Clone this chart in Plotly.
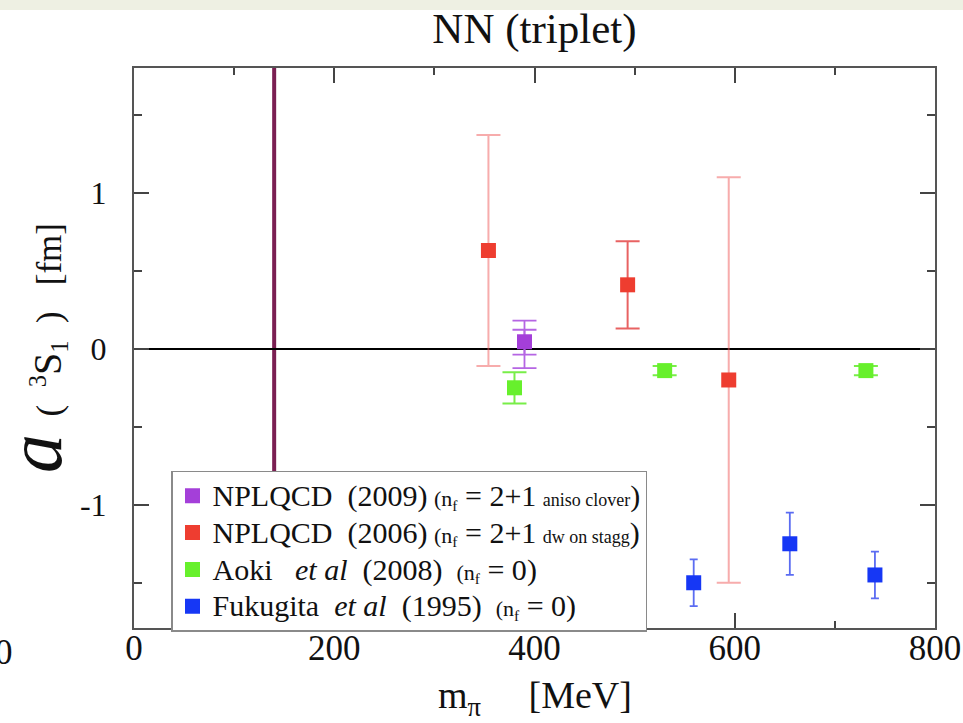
import plotly.graph_objects as go

# ---- data: NN 3S1 scattering length vs pion mass ----
mpi_phys = 140  # physical pion mass [MeV]

# NPLQCD (2009), n_f = 2+1 anisotropic clover (stat and stat+sys bands)
npl09_x = [390]
npl09_y = [0.045]
npl09_stat_up = [0.077]
npl09_stat_dn = [0.083]
npl09_tot_up = [0.136]
npl09_tot_dn = [0.169]

# NPLQCD (2006), n_f = 2+1 domain wall on staggered
npl06_x = [354, 493, 594]
npl06_y = [0.63, 0.41, -0.20]
npl06_err = [0.74, 0.28, 1.30]

# Aoki et al (2008), quenched
aoki_x = [380, 530, 731]
aoki_y = [-0.25, -0.14, -0.14]
aoki_err = [0.10, 0.03, 0.03]

# Fukugita et al (1995), quenched
fuku_x = [559, 655, 740]
fuku_y = [-1.50, -1.25, -1.45]
fuku_err = [0.15, 0.20, 0.15]

x_ticks = [0, 200, 400, 600, 800]
y_ticks = [-1, 0, 1]

SERIF = "Liberation Serif, Times New Roman, serif"
NB = "\u00a0"

C_PURPLE = "#a43fd9"
C_RED = "#ee3d30"
C_GREEN = "#67f02c"
C_BLUE = "#1637f5"


def legend_label(head, nf, tail=""):
    """Legend entry: large main text, smaller (n_f ...) part and optional tiny action tag."""
    txt = '<span style="font-size:30px">' + head + "</span>" + NB
    txt += '<span style="font-size:22px">(n<sub>f</sub></span>'
    txt += '<span style="font-size:30px">' + NB + "=" + NB + nf + "</span>"
    if tail:
        txt += NB + '<span style="font-size:18px">' + tail + "</span>"
    txt += '<span style="font-size:30px">)</span>'
    return txt


fig = go.Figure()

# physical point
fig.add_vline(x=mpi_phys, line=dict(color="#7a1f52", width=4), layer="below")

# NPLQCD 2009: outer (stat+sys) bars, then marker with inner bars
fig.add_trace(go.Scatter(
    x=npl09_x, y=npl09_y, mode="markers", showlegend=False,
    marker=dict(size=1, color="rgba(0,0,0,0)"),
    error_y=dict(type="data", symmetric=False, array=npl09_tot_up, arrayminus=npl09_tot_dn,
                 color="#b565e3", thickness=1.8, width=12),
    hoverinfo="skip"))
fig.add_trace(go.Scatter(
    x=npl09_x, y=npl09_y, mode="markers",
    name=legend_label("NPLQCD" + NB * 2 + "(2009)", "2+1", "aniso clover"),
    marker=dict(symbol="square", size=15, color=C_PURPLE),
    error_y=dict(type="data", symmetric=False, array=npl09_stat_up, arrayminus=npl09_stat_dn,
                 color="#b565e3", thickness=1.8, width=12)))

# NPLQCD 2006
npl06_bar_colors = ["rgba(240,90,90,0.5)", "rgba(228,70,70,0.85)", "rgba(240,90,90,0.5)"]
for xi, yi, ei, ci in zip(npl06_x, npl06_y, npl06_err, npl06_bar_colors):
    fig.add_trace(go.Scatter(
        x=[xi], y=[yi], mode="markers", showlegend=False,
        marker=dict(size=1, color="rgba(0,0,0,0)"),
        error_y=dict(type="data", array=[ei], color=ci, thickness=2, width=12),
        hoverinfo="skip"))
fig.add_trace(go.Scatter(
    x=npl06_x, y=npl06_y, mode="markers",
    name=legend_label("NPLQCD" + NB * 2 + "(2006)", "2+1", "dw on stagg"),
    marker=dict(symbol="square", size=15, color=C_RED)))

# Aoki et al 2008
fig.add_trace(go.Scatter(
    x=aoki_x, y=aoki_y, mode="markers",
    name=legend_label("Aoki" + NB * 3 + "<i>et al</i>" + NB * 2 + "(2008)" + NB, "0"),
    marker=dict(symbol="square", size=15, color=C_GREEN),
    error_y=dict(type="data", array=aoki_err, color="#78ee48", thickness=2, width=12)))

# Fukugita et al 1995
fig.add_trace(go.Scatter(
    x=fuku_x, y=fuku_y, mode="markers",
    name=legend_label("Fukugita" + NB * 2 + "<i>et al</i>" + NB * 2 + "(1995)" + NB, "0"),
    marker=dict(symbol="square", size=15, color=C_BLUE),
    error_y=dict(type="data", array=fuku_err, color="#5b6cf2", thickness=1.8, width=4)))

axis_common = dict(
    showline=True, linecolor="#555555", linewidth=2, mirror="ticks",
    ticks="inside", tickcolor="#444444", tickwidth=1.5, ticklen=15,
    showgrid=False, automargin=False,
)

fig.update_xaxes(
    range=[0, 800], tickvals=x_ticks, ticktext=[str(v) for v in x_ticks],
    minor=dict(dtick=100, ticks="inside", ticklen=7, tickcolor="#444444", tickwidth=1.5),
    zeroline=False, ticklabelstandoff=-12,
    tickfont=dict(family=SERIF, size=35, color="#111111"),
    **axis_common)
fig.update_yaxes(
    range=[-1.79, 1.80], tickvals=y_ticks, ticktext=[str(v) for v in y_ticks],
    minor=dict(dtick=0.5, ticks="inside", ticklen=8, tickcolor="#444444", tickwidth=1.5),
    zeroline=True, zerolinecolor="#000000", zerolinewidth=1.6, ticklabelstandoff=19,
    tickfont=dict(family=SERIF, size=32, color="#111111"),
    **axis_common)

fig.update_layout(
    width=963, height=723,
    margin=dict(l=134, r=28, t=68, b=95, autoexpand=False),
    paper_bgcolor="white", plot_bgcolor="white",
    font=dict(family=SERIF, color="#111111"),
    title=dict(text="NN (triplet)", x=0.555, xanchor="center", y=1 - 28 / 723, yanchor="middle",
               font=dict(family=SERIF, size=43, color="#111111")),
    legend=dict(x=(171 - 134) / 801, y=-0.007, xanchor="left", yanchor="bottom",
                bgcolor="white", bordercolor="#8a8a8a", borderwidth=1.5,
                font=dict(family=SERIF, size=26, color="#111111"),
                itemsizing="trace"),
    showlegend=True,
)

# thin band along the top edge of the page
fig.add_shape(type="rect", xref="paper", yref="paper",
              x0=-0.2, x1=1.1, y0=(628 - 10) / 560, y1=(628 + 2) / 560,
              fillcolor="#eef0e3", line=dict(width=0), layer="below")

# axis titles
fig.add_annotation(
    xref="paper", yref="paper", x=0.5, y=(628 - 698) / 560, xanchor="center", yanchor="middle",
    text="m<sub>\u03c0</sub>" + NB * 5 + "[MeV]", showarrow=False,
    font=dict(family=SERIF, size=38, color="#111111"))
fig.add_annotation(
    xref="paper", yref="paper", x=(34 - 134) / 801, y=0.5, xanchor="center", yanchor="middle",
    textangle=-90, showarrow=False,
    text=('<span style="font-size:78px;font-style:italic">a</span>' + NB * 2 + "(" + NB * 2 +
          '<sup>3</sup><span style="font-size:40px">S</span><sub>1</sub>' + NB * 2 + ")" +
          NB * 3 + "[fm]"),
    font=dict(family=SERIF, size=35, color="#111111"))

# neighbouring panel's tick label at the left edge
fig.add_annotation(
    xref="paper", yref="paper", x=(4 - 134) / 801, y=(628 - 652) / 560,
    xanchor="center", yanchor="middle", text="0", showarrow=False,
    font=dict(family=SERIF, size=35, color="#111111"))

fig.write_html("out.html")
